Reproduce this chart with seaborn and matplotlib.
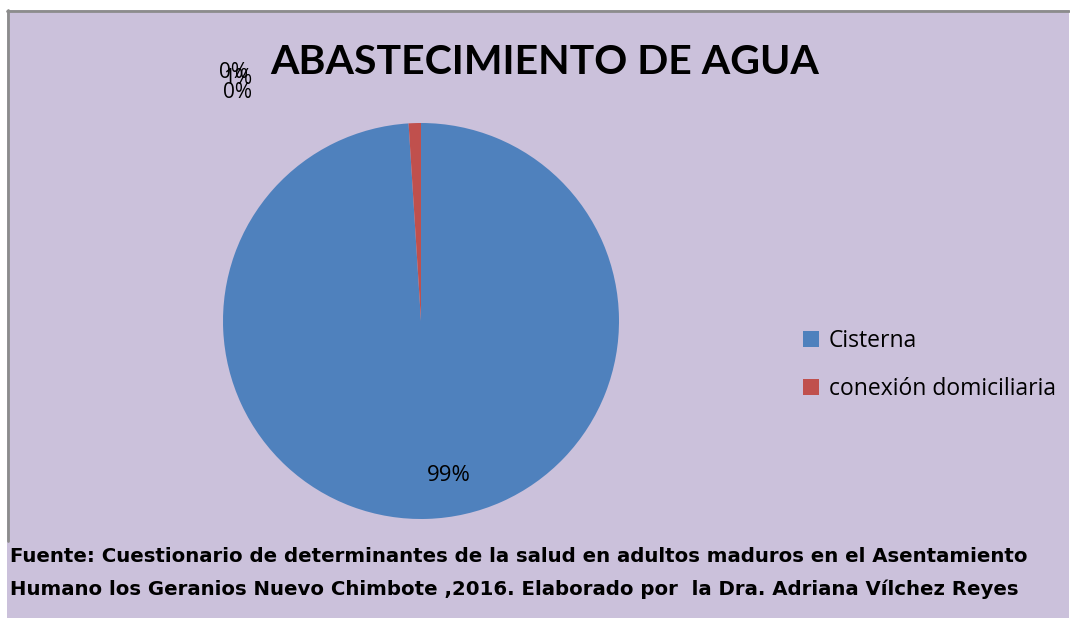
import matplotlib
matplotlib.use("Agg")
import matplotlib.pyplot as plt
import seaborn as sns
from matplotlib.patches import Rectangle
from matplotlib.lines import Line2D

sns.set_style("white")
plt.rcParams['font.family'] = ['Lato', 'DejaVu Sans']
plt.rcParams['text.color'] = 'black'

# data
categories = ["Cisterna", "conexión domiciliaria", "", ""]
values = [99, 1, 0, 0]
legend_names = ["Cisterna", "conexión domiciliaria"]
title = "ABASTECIMIENTO DE AGUA"
source_lines = [
    "Fuente: Cuestionario de determinantes de la salud en adultos maduros en el Asentamiento",
    "Humano los Geranios Nuevo Chimbote ,2016. Elaborado por  la Dra. Adriana Vílchez Reyes",
]

colors = ["#4F81BD", "#C0504D", "#9BBB59", "#8064A2"]
bg = "#CBC1DB"

W, H = 1070, 618
fig = plt.figure(figsize=(W / 100, H / 100), dpi=100)
fig.patch.set_facecolor("white")

# chart area background with grey top/left border
fig.add_artist(Rectangle((7 / W, 0), (1069 - 7) / W, (H - 10) / H,
                         transform=fig.transFigure, facecolor=bg, edgecolor="none", zorder=0))
fig.add_artist(Line2D([7 / W, 1069 / W], [1 - 10.5 / H, 1 - 10.5 / H],
                      transform=fig.transFigure, color="#8C8C8C", lw=2))
fig.add_artist(Line2D([8 / W, 8 / W], [1 - 10 / H, 1 - 541 / H],
                      transform=fig.transFigure, color="#8C8C8C", lw=2))

cx, cy, r = 421, 321, 198
ax = fig.add_axes([(cx - r) / W, (H - cy - r) / H, 2 * r / W, 2 * r / H])
ax.set_facecolor("none")
wedges, _ = ax.pie(values, colors=colors, startangle=90, counterclock=False,
                   wedgeprops=dict(linewidth=0))
ax.set_xlim(-1, 1)
ax.set_ylim(-1, 1)
ax.axis("off")

total = sum(values)
pcts = [f"{round(v / total * 100)}%" for v in values]

# data labels (placed as in the original)
ax.text(0.14, -0.78, pcts[0], fontsize=16, ha="center", va="center", color="black",
        family=["Open Sans", "DejaVu Sans"])
label_pos = [(233, 73), (237, 93), (238, 78)]
for (px, py), txt in zip(label_pos, [pcts[2], pcts[3], pcts[1]]):
    fig.text(px / W, 1 - py / H, txt, fontsize=15, ha="center", va="center", color="black",
             family=["Open Sans", "DejaVu Sans"])

fig.text(545 / W, 1 - 62 / H, title, fontsize=29.5, fontweight="bold", ha="center", va="center",
         color="black")

leg = fig.legend(wedges[:2], legend_names, loc="upper left", bbox_to_anchor=(782 / W, 1 - 308 / H),
                 frameon=False, handlelength=0.7, handleheight=0.7,
                 labelspacing=1.05, handletextpad=0.45,
                 prop={"family": ["Open Sans", "DejaVu Sans"], "size": 16.5})
for t in leg.get_texts():
    t.set_color("black")

for i, line in enumerate(source_lines):
    fig.text(10 / W, 1 - (556 + 33 * i) / H, line, fontsize=14.2, fontweight="bold",
             ha="left", va="center", family=["DejaVu Sans"], color="black")

fig.savefig("out.png", dpi=100, facecolor=fig.get_facecolor())
